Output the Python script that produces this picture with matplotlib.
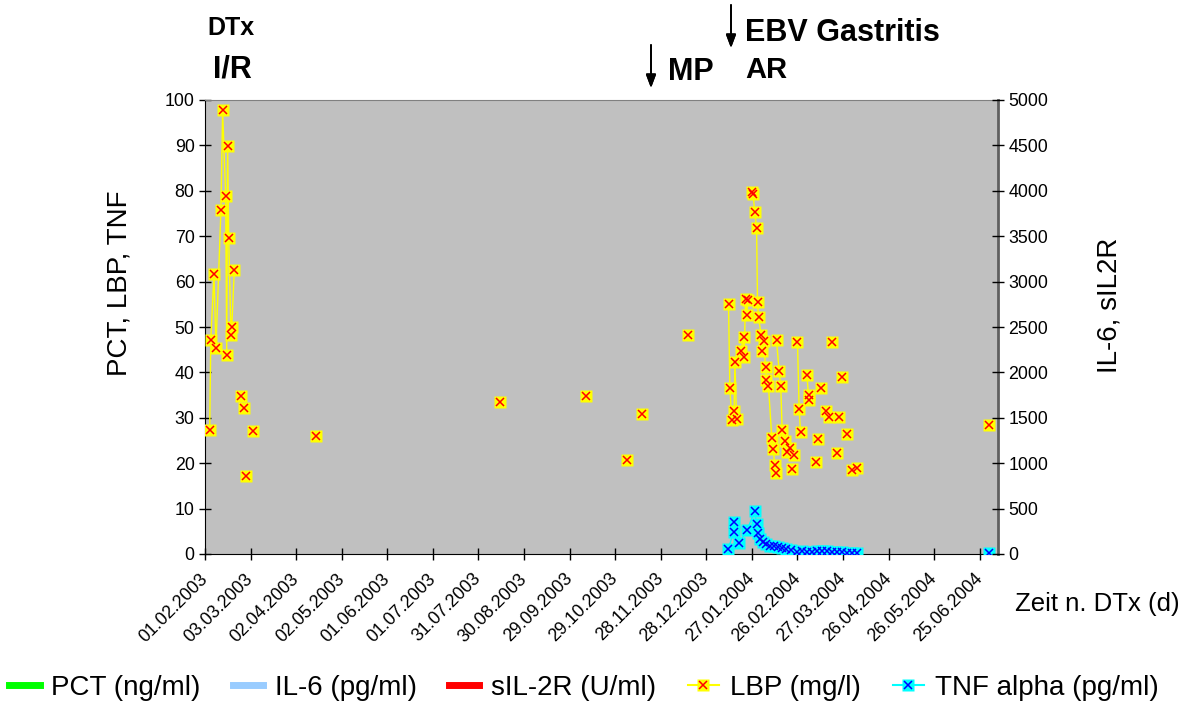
"""LBP / TNF time course after DTx, Excel-style line chart with markers."""

import matplotlib
matplotlib.use("Agg")
import matplotlib.pyplot as plt
from matplotlib.lines import Line2D

plt.rcParams["font.family"] = ["Liberation Sans", "DejaVu Sans"]

# x axis: days after 01.02.2003
X_MAX = 522
TICK_DAYS = list(range(0, 511, 30))
TICK_LABELS = [
    "01.02.2003", "03.03.2003", "02.04.2003", "02.05.2003", "01.06.2003",
    "01.07.2003", "31.07.2003", "30.08.2003", "29.09.2003", "29.10.2003",
    "28.11.2003", "28.12.2003", "27.01.2004", "26.02.2004", "27.03.2004",
    "26.04.2004", "26.05.2004", "25.06.2004",
]

# LBP (mg/l); segment id 0 = marker only, others = connected runs
LBP_DAYS = [
    3.1, 3.8, 5.9, 7.2, 10.5, 11.6, 13.6, 14.3, 14.9, 15.6, 17.1, 17.6, 19.3,
    23.7, 25.5, 27.0, 31.6, 72.8, 193.9, 250.5, 277.5, 287.4, 317.8,
    344.6, 345.5, 346.8, 348.3, 348.8, 349.9,
    352.7, 354.5, 354.9, 355.8, 356.5, 357.5,
    360.0, 360.8, 361.9, 363.1, 363.7, 364.4, 366.1, 366.7, 367.7, 369.0,
    369.6, 370.9, 373.1, 374.0, 375.1, 375.8,
    376.2, 377.9, 379.0, 379.9, 381.7, 382.8,
    385.2, 386.7, 387.8,
    390.0, 391.1, 392.0, 396.2, 397.5, 397.9,
    402.5, 403.8, 405.8, 409.1, 410.6, 412.4, 415.7, 417.4, 419.4, 422.9,
    425.6, 429.5, 516.1,
]
LBP_VALUES = [
    27.4, 47.1, 61.7, 45.3, 75.8, 97.7, 78.9, 43.9, 89.9, 69.7, 48.2, 49.9, 62.6,
    34.7, 32.1, 17.1, 27.2, 26.1, 33.5, 34.9, 20.8, 30.9, 48.2,
    55.1, 36.6, 29.5, 31.6, 42.3, 29.8,
    44.7, 47.8, 43.5, 56.2, 52.6, 56.0,
    79.8, 79.2, 75.3, 71.7, 55.4, 52.1, 48.2, 44.8, 47.0, 41.1,
    38.3, 37.1, 25.6, 23.2, 19.6, 17.9,
    47.1, 40.4, 36.9, 27.3, 25.0, 22.5,
    23.4, 18.8, 21.8,
    46.8, 31.9, 26.9, 39.5, 33.9, 35.0,
    20.3, 25.3, 36.6, 31.6, 30.2, 46.8, 22.3, 30.2, 38.9, 26.5,
    18.5, 19.0, 28.4,
]
LBP_SEG = (
    [1] * 13 + [0] * 10
    + [2] * 3 + [3] * 3 + [4] * 6 + [5] * 16 + [6] * 6 + [0] * 3
    + [7] * 3 + [8] * 3 + [0] * 13
)

# TNF alpha (pg/ml)
TNF_DAYS = [
    344.4, 347.9, 348.3, 351.6, 356.9, 361.9, 363.1, 363.7, 365.2, 367.2,
    369.2, 371.8, 374.5, 377.1, 379.7, 382.3, 385.6, 389.6, 392.9, 396.2,
    399.5, 402.7, 406.0, 409.3, 412.6, 415.9, 419.2, 422.5, 425.8, 429.1,
    515.9,
]
TNF_VALUES = [
    1.0, 4.8, 7.0, 2.4, 5.3, 9.5, 6.5, 4.6, 3.2, 2.6,
    2.2, 1.8, 1.7, 1.5, 1.3, 1.0, 0.8, 0.5, 0.6, 0.4,
    0.5, 0.6, 0.7, 0.6, 0.5, 0.4, 0.4, 0.3, 0.3, 0.3,
    0.3,
]
TNF_SEG = [1] * 30 + [0]

YELLOW = "#FFFF00"
CYAN = "#00FFFF"


def px(x, y):
    """Pixel position in the 1192x704 picture -> figure fraction."""
    return x / 1192, 1 - y / 704


def draw_series(ax, days, values, seg, line_color, face, cross):
    for s in sorted(set(seg) - {0}):
        xs = [d for d, g in zip(days, seg) if g == s]
        ys = [v for v, g in zip(values, seg) if g == s]
        ax.plot(xs, ys, color=line_color, lw=1.0, zorder=2)
    ax.plot(days, values, ls="none", marker="s", ms=8.8, mfc=face, mec="none", zorder=3)
    ax.plot(days, values, ls="none", marker="x", ms=5.5, mew=1.1, color=cross, zorder=4)


fig = plt.figure(figsize=(11.92, 7.04), dpi=100)
x0, y0 = px(205, 554)
x1, y1 = px(998, 100)
ax = fig.add_axes([x0, y0, x1 - x0, y1 - y0])
ax.set_facecolor("#C0C0C0")

draw_series(ax, LBP_DAYS, LBP_VALUES, LBP_SEG, YELLOW, YELLOW, "#FF0000")
draw_series(ax, TNF_DAYS, TNF_VALUES, TNF_SEG, CYAN, CYAN, "#0000FF")

ax.set_xlim(0, X_MAX)
ax.set_ylim(0, 100)
ax.set_yticks(range(0, 101, 10))
ax.set_xticks(TICK_DAYS)
ax.set_xticklabels(TICK_LABELS, rotation=45, ha="right", va="center",
                   rotation_mode="anchor")
ax.tick_params(axis="both", direction="inout", length=8, width=1, labelsize=12.8)
ax.tick_params(axis="x", pad=12)
ax.spines["top"].set_color("#808080")
ax.spines["right"].set_color("#606060")
ax.spines["right"].set_linewidth(2)

ax2 = ax.twinx()
ax2.set_ylim(0, 5000)
ax2.set_yticks(range(0, 5001, 500))
ax2.tick_params(axis="y", direction="inout", length=8, width=1, labelsize=12.8)
for sp in ax2.spines.values():
    sp.set_visible(False)

fig.text(*px(120, 283), "PCT, LBP, TNF", rotation=90, fontsize=20,
         ha="center", va="center")
fig.text(*px(1110, 305), "IL-6, sIL2R", rotation=90, fontsize=20,
         ha="center", va="center")
fig.text(*px(1015, 604), "Zeit n. DTx (d)", fontsize=18.5, ha="left", va="center")

# event annotations above the plot
bold = dict(fontweight="bold", va="center")
fig.text(*px(231, 28), "DTx", fontsize=18, ha="center", **bold)
fig.text(*px(232, 70), "I/R", fontsize=22, ha="center", **bold)
fig.text(*px(668, 72), "MP", fontsize=22, ha="left", **bold)
fig.text(*px(745, 33), "EBV Gastritis", fontsize=22, ha="left", **bold)
fig.text(*px(745, 70), "AR", fontsize=21, ha="left", **bold)
for ax_, top, tip in [(651, 45, 88), (731, 5, 48)]:
    fig.add_artist(plt.annotate(
        "", xy=px(ax_, tip), xytext=px(ax_, top), xycoords="figure fraction",
        textcoords="figure fraction",
        arrowprops=dict(arrowstyle="-|>,head_length=0.8,head_width=0.3",
                        color="black", lw=1.3, shrinkA=0, shrinkB=0)))

handles = [
    Line2D([], [], color="#00FF00", lw=5),
    Line2D([], [], color="#99CCFF", lw=5),
    Line2D([], [], color="#FF0000", lw=5),
    (Line2D([], [], color=YELLOW, lw=1.5, marker="s", ms=8.8, mfc=YELLOW, mec="none"),
     Line2D([], [], ls="none", marker="x", ms=5.5, mew=1.1, color="#FF0000")),
    (Line2D([], [], color=CYAN, lw=1.5, marker="s", ms=8.8, mfc=CYAN, mec="none"),
     Line2D([], [], ls="none", marker="x", ms=5.5, mew=1.1, color="#0000FF")),
]
labels = ["PCT (ng/ml)", "IL-6 (pg/ml)", "sIL-2R (U/ml)", "LBP (mg/l)",
          "TNF alpha (pg/ml)"]
fig.legend(handles, labels, loc="center left", bbox_to_anchor=px(9, 688),
           ncol=5, frameon=False, fontsize=20, handlelength=1.1,
           handletextpad=0.42, columnspacing=1.15, borderpad=0, borderaxespad=0)

fig.savefig("out.png", dpi=100)
